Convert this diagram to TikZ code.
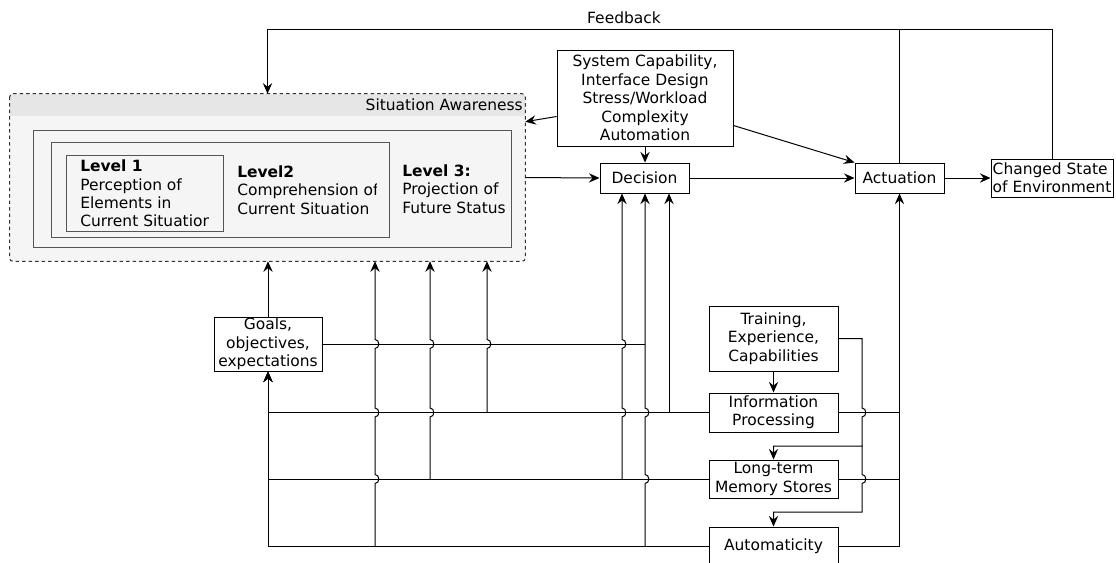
\documentclass[tikz,border=0pt]{standalone}
\usepackage{fontspec}
\setmainfont{DejaVu Sans}
\usetikzlibrary{arrows.meta,calc}

% one drawing unit = one pixel of the layout grid
\newlength{\upx}\setlength{\upx}{0.75pt}

% line jumps: a small half-round bump to the right where a vertical wire crosses a horizontal one
\newcommand\bumpup[2]{-- (#1,#2+4.5) .. controls (#1+5,#2+4.5) and (#1+5,#2-4.5) .. (#1,#2-4.5)}
\newcommand\bumpdown[2]{-- (#1,#2-4.5) .. controls (#1+5,#2-4.5) and (#1+5,#2+4.5) .. (#1,#2+4.5)}

\definecolor{saHead}{HTML}{E6E6E6}
\definecolor{saBody}{HTML}{F5F5F5}
\definecolor{lvlLine}{HTML}{555555}

\tikzset{
  lbl/.style={font=\fontsize{11.6}{13.8}\selectfont, inner sep=0pt},
  box/.style={lbl, draw, fill=white, align=center, line width=0.75pt},
  wire/.style={line width=0.75pt},
  arr/.style={wire, -{Stealth[length=8pt, width=7pt, inset=2.8pt]}},
  lvl/.style={draw=lvlLine, fill=saBody, line width=0.75pt, inner sep=0pt},
}

\begin{document}
\begin{tikzpicture}[x=1\upx, y=-1\upx]
\useasboundingbox (0,0) rectangle (1116,562);

% ---------- situation awareness container ----------
\node[fill=saBody, rounded corners=3\upx, inner sep=0pt,
      minimum width=515\upx, minimum height=167\upx] (sa) at (267.5,177.5) {};
\begin{scope}
  \clip[rounded corners=3\upx] (sa.north west) rectangle (sa.south east);
  \fill[saHead] (sa.north west) rectangle ($(sa.north east)+(0,22)$);
\end{scope}
\draw[line width=0.75pt, black!80, dash pattern=on 3.5\upx off 3\upx, rounded corners=3\upx]
  (sa.north west) rectangle (sa.south east);
\node[lbl, anchor=east] (satitle) at (523,105) {Situation Awareness};

% nested levels
\node[lvl, minimum width=478\upx, minimum height=117\upx] (l3) at (272,188.5) {};
\node[lvl, minimum width=338\upx, minimum height=95\upx] (l2) at (220,189.5) {};
\node[lvl, minimum width=157\upx, minimum height=76\upx] (l1) at (144.5,193) {};

\node[lbl, anchor=west, align=left] (t3) at (402,189) {\textbf{Level 3:}\\Projection of\\Future Status};
\begin{scope}
  \clip (235,150) rectangle (376.5,232);
  \node[lbl, anchor=west, align=left] (t2) at (237,190) {\textbf{Level2}\\Comprehension of\\Current Situation};
\end{scope}
\begin{scope}
  \clip (78,157) rectangle (208.5,230);
  \node[lbl, anchor=west, align=left] (t1) at (80,193.5) {\textbf{Level 1}\\Perception of\\Elements in\\Current Situation};
\end{scope}

% ---------- blocks ----------
\node[box, minimum width=176\upx, minimum height=96\upx] (sys) at (645,98)
  {System Capability,\\Interface Design\\Stress/Workload\\Complexity\\Automation};
\node[box, minimum width=89\upx, minimum height=30\upx] (dec) at (644.5,178) {Decision};
\node[box, minimum width=89\upx, minimum height=30\upx] (act) at (899.5,178) {Actuation};
\node[box, align=left, minimum width=122\upx, minimum height=38\upx] (chg) at (1052,178)
  {Changed State\\of Environment};
\node[box, minimum width=108\upx, minimum height=54\upx] (goals) at (268,344)
  {Goals,\\objectives,\\expectations};
\node[box, minimum width=129\upx, minimum height=65\upx] (train) at (773.5,338.5)
  {Training,\\Experience,\\Capabilities};
\node[box, minimum width=129\upx, minimum height=39\upx] (info) at (773.5,412.5)
  {Information\\Processing};
\node[box, minimum width=129\upx, minimum height=38\upx] (lt) at (773.5,479)
  {Long-term\\Memory Stores};
\node[box, minimum width=129\upx, minimum height=38\upx] (auto) at (773.5,546)
  {Automaticity};

\node[lbl] (fbl) at (624,18) {Feedback};

% ---------- upper connectors ----------
\coordinate (fb) at (267.5,29);
\draw[arr] (chg.north) |- (fb) -- (sa.north);
\draw[wire] (act.north) -- (act.north |- fb);
\draw[arr] ($(sys.north west)+(0,67)$) -- ($(sa.north east)+(0,28)$);
\draw[arr] (sys.south) -- (sys.south |- dec.north);
\draw[arr] ($(sys.north east)+(0,76)$) -- (act.north west);
\draw[arr] (sa.east) -- (dec.west);
\draw[arr] (dec.east) -- (act.west);
\draw[arr] (act.east) -- (chg.west);

% ---------- lower connectors ----------
\coordinate (c375) at (375,0);
\coordinate (c430) at (430,0);
\coordinate (c487) at (487,0);
\coordinate (c622) at (622,0);
\coordinate (c645) at (645,0);
\coordinate (c669) at (669,0);

\draw[arr] (goals.north) -- (goals.north |- sa.south);
\draw[arr] (train.south) -- (info.north);

\draw[wire] (goals.east) -- (goals.east -| c645);
\draw[arr] (info.west) -| (goals.south);
\draw[arr] (lt.west) -| (goals.south);
\draw[arr] (auto.west) -| (goals.south);
\draw[wire] (info.east) -- (info.east -| act.south);
\draw[wire] (lt.east) -- (lt.east -| act.south);
\draw[arr] (auto.east) -| (act.south);

\draw[arr] (auto.west -| c375) \bumpup{375}{479}\bumpup{375}{412.5}\bumpup{375}{344} -- (sa.south -| c375);
\draw[arr] (lt.west -| c430) \bumpup{430}{412.5}\bumpup{430}{344} -- (sa.south -| c430);
\draw[arr] (info.west -| c487) \bumpup{487}{344} -- (sa.south -| c487);
\draw[arr] (lt.west -| c622) \bumpup{622}{412.5}\bumpup{622}{344} -- (dec.south -| c622);
\draw[arr] (auto.west -| c645) \bumpup{645}{479}\bumpup{645}{412.5} -- (dec.south -| c645);
\draw[arr] (info.west -| c669) -- (dec.south -| c669);

\coordinate (brA) at (862,446);
\coordinate (brB) at (862,512);
\draw[arr] (train.east) -- (train.east -| brA) \bumpdown{862}{412.5} -- (brA) -| (lt.north);
\draw[arr] (brA) \bumpdown{862}{479} -- (brB) -| (auto.north);
\end{tikzpicture}
\end{document}
